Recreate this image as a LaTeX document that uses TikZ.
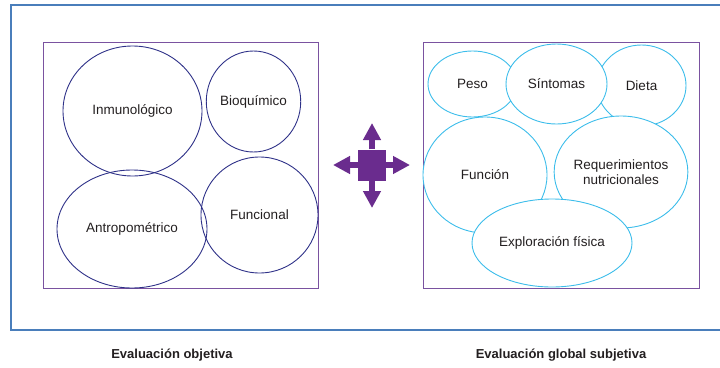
\documentclass[tikz,border=0pt]{standalone}
\usepackage{fontspec}
\setmainfont{Liberation Sans}
\usetikzlibrary{shapes.geometric,arrows.meta}

\definecolor{framebl}{HTML}{4A7EBB}
\definecolor{boxpurple}{HTML}{7A52A0}
\definecolor{objblue}{HTML}{2E3188}
\definecolor{subjcyan}{HTML}{3CBDEB}
\definecolor{crosspurple}{HTML}{6A2C8E}
\definecolor{txtgray}{HTML}{231F20}

\begin{document}
\begin{tikzpicture}[x=1pt, y=-1pt,
    oval/.style={ellipse, draw, line width=0.9pt, inner sep=0pt, align=center,
        font=\fontsize{13.5}{15.5}\selectfont, text=txtgray},
    objoval/.style={oval, draw=objblue},
    subjoval/.style={oval, draw=subjcyan, fill=white},
    panel/.style={draw=boxpurple, line width=0.8pt},
    caption/.style={font=\fontsize{13}{15}\selectfont\bfseries, text=txtgray},
    crossarrow/.style={crosspurple, line width=6pt, -{Triangle[width=17pt,length=17pt]}}]

        \useasboundingbox (0,0) rectangle (720,367);

        % Outer frame (runs off the right edge)
        \draw[framebl, line width=2.5pt] (724,5) -- (11,5) -- (11,330) -- (724,330);

        % Two panels
        \draw[panel] (43,42) rectangle (318,288);
        \draw[panel] (423,42) rectangle (699,288);

        % Objective assessment
        \node[objoval, minimum width=139pt, minimum height=130pt] (inmuno) at (132.5,111) {Inmunológico};
        \node[objoval, minimum width=91pt, minimum height=101pt] (bioq) at (253.5,101.5) {Bioquímico};
        \node[objoval, minimum width=150pt, minimum height=118pt] (antropo) at (132,229) {Antropométrico};
        \node[objoval, minimum width=117pt, minimum height=116pt] (funcional) at (259.5,215) {Funcional};

        % Subjective global assessment (filled, drawn back to front)
        \node[subjoval, minimum width=89pt, minimum height=66pt] (peso) at (472.5,84) {Peso};
        \node[subjoval, minimum width=89pt, minimum height=81pt] (dieta) at (641.5,85.5) {Dieta};
        \node[subjoval, minimum width=101pt, minimum height=80pt] (sintomas) at (556.5,84) {Síntomas};
        \node[subjoval, minimum width=124pt, minimum height=116pt] (funcion) at (485,175) {Función};
        \node[subjoval, minimum width=124pt, minimum height=112pt] (requer) at (621,172) {Requerimientos\\nutricionales};
        \node[subjoval, minimum width=160pt, minimum height=88pt] (explor) at (552,243) {Exploración física};

        % Four-way arrow between the panels
        \node[fill=crosspurple, minimum width=28pt, minimum height=31pt, inner sep=0pt] (hub) at (372,165) {};
        \coordinate (tipN) at (372,123);
        \coordinate (tipS) at (372,208);
        \coordinate (tipE) at (410,165);
        \coordinate (tipW) at (333,165);
        \foreach \tip in {tipN, tipE, tipS, tipW} {
            \draw[crossarrow] (hub) -- (\tip);
        }

        % Captions
        \node[caption] (objcap) at (172,355) {Evaluación objetiva};
        \node[caption] (subjcap) at (561,355) {Evaluación global subjetiva};

\end{tikzpicture}
\end{document}
